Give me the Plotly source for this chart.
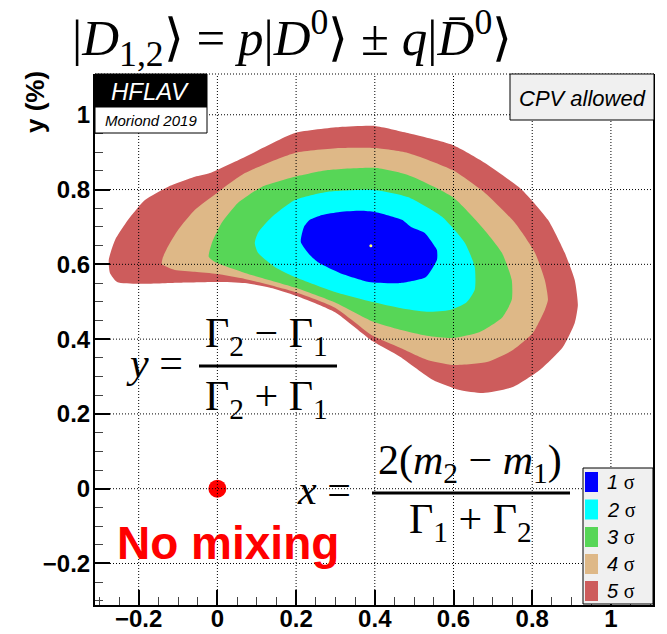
import plotly.graph_objects as go

# ---------------- data ----------------
sigma_names = ["1", "2", "3", "4", "5"]
sigma_colors = ["#0000ff", "#00ffff", "#57d657", "#deb887", "#cd5c5c"]

c5_x = [-0.276, -0.260, -0.227, -0.184, -0.126, -0.057, -0.019, 0.070, 0.197, 0.311, 0.400, 0.484, 0.598,
        0.680, 0.774, 0.840, 0.883, 0.908, 0.916, 0.908, 0.878, 0.820, 0.751, 0.675, 0.616, 0.548, 0.464,
        0.395, 0.299, 0.210, 0.140, 0.070, -0.001, -0.100, -0.202, -0.255, -0.273]
c5_y = [0.612, 0.665, 0.719, 0.772, 0.807, 0.834, 0.844, 0.887, 0.951, 0.967, 0.970, 0.951, 0.919,
        0.871, 0.799, 0.719, 0.630, 0.558, 0.491, 0.443, 0.379, 0.318, 0.272, 0.256, 0.264, 0.291, 0.353,
        0.394, 0.472, 0.512, 0.536, 0.550, 0.553, 0.551, 0.548, 0.553, 0.577]

c4_x = [-0.141, -0.139, -0.126, -0.100, -0.057, -0.001, 0.070, 0.197, 0.311, 0.400, 0.484, 0.598, 0.680,
        0.756, 0.807, 0.832, 0.840, 0.832, 0.802, 0.751, 0.685, 0.598, 0.532, 0.464, 0.395, 0.299, 0.197,
        0.070, -0.001, -0.057, -0.108]
c4_y = [0.601, 0.617, 0.647, 0.692, 0.746, 0.791, 0.844, 0.898, 0.911, 0.911, 0.898, 0.852, 0.791,
        0.711, 0.631, 0.558, 0.505, 0.478, 0.417, 0.371, 0.339, 0.331, 0.345, 0.377, 0.409, 0.484, 0.526,
        0.561, 0.574, 0.580, 0.585]

c3_x = [-0.022, -0.014, 0.011, 0.052, 0.113, 0.197, 0.281, 0.400, 0.484, 0.598, 0.672, 0.723, 0.748,
        0.748, 0.723, 0.667, 0.598, 0.532, 0.464, 0.395, 0.299, 0.197, 0.070, -0.006]
c3_y = [0.620, 0.657, 0.711, 0.764, 0.807, 0.834, 0.852, 0.858, 0.839, 0.780, 0.700, 0.631, 0.558,
        0.505, 0.457, 0.419, 0.403, 0.409, 0.425, 0.447, 0.498, 0.538, 0.577, 0.606]

c2_x = [0.095, 0.103, 0.139, 0.197, 0.281, 0.400, 0.484, 0.571, 0.629, 0.654, 0.654, 0.632, 0.591,
        0.532, 0.464, 0.395, 0.299, 0.197, 0.146, 0.103]
c2_y = [0.657, 0.684, 0.727, 0.772, 0.794, 0.799, 0.780, 0.727, 0.657, 0.593, 0.532, 0.497, 0.478,
        0.473, 0.483, 0.499, 0.526, 0.566, 0.593, 0.631]

c1_x = [0.220, 0.212, 0.235, 0.258, 0.311, 0.385, 0.466, 0.530, 0.558, 0.558, 0.550, 0.527, 0.492,
        0.469, 0.400, 0.365, 0.311, 0.266, 0.235]
c1_y = [0.700, 0.660, 0.625, 0.604, 0.577, 0.553, 0.550, 0.566, 0.612, 0.638, 0.652, 0.684, 0.700,
        0.719, 0.740, 0.743, 0.740, 0.732, 0.719]

fit_x = [0.39]
fit_y = [0.65]
nomix_x = [0.0]
nomix_y = [0.0]

x_ticks = [-0.2, 0.0, 0.2, 0.4, 0.6, 0.8, 1.0]
y_ticks = [-0.2, 0.0, 0.2, 0.4, 0.6, 0.8, 1.0]
tick_text = ["−0.2", "0", "0.2", "0.4", "0.6", "0.8", "1"]
x_range = [-0.311, 1.112]
y_range = [-0.311, 1.109]

# ---------------- layout helpers ----------------
W, H = 667, 634
ML, MR, MT, MB = 95, 12, 74, 29
PW, PH = W - ML - MR, H - MT - MB


def pxx(p):
    return (p - ML) / PW


def pxy(p):
    return (H - MB - p) / PH


SERIF = "Liberation Serif"
SANS = "Liberation Sans"

fig = go.Figure()

contours = [(c5_x, c5_y, 4), (c4_x, c4_y, 3), (c3_x, c3_y, 2), (c2_x, c2_y, 1), (c1_x, c1_y, 0)]
for cx, cy, i in contours:
    fig.add_trace(go.Scatter(x=cx + [cx[0]], y=cy + [cy[0]], mode="lines", fill="toself",
                             fillcolor=sigma_colors[i],
                             line=dict(width=0, color=sigma_colors[i], shape="spline", smoothing=0.55),
                             hoverinfo="skip", showlegend=False))

fig.add_trace(go.Scatter(x=fit_x, y=fit_y, mode="markers", marker=dict(size=3, color="#ffff66"),
                         showlegend=False, hoverinfo="skip"))
fig.add_trace(go.Scatter(x=nomix_x, y=nomix_y, mode="markers", marker=dict(size=18, color="#ff0000"),
                         showlegend=False, hoverinfo="skip"))

shapes = []
# grid lines above contours
for v in x_ticks:
    shapes.append(dict(type="line", xref="x", yref="paper", x0=v, x1=v, y0=0, y1=1,
                       line=dict(color="black", width=1, dash="1px,2px"), layer="above"))
for v in y_ticks:
    shapes.append(dict(type="line", xref="paper", yref="y", x0=0, x1=1, y0=v, y1=v,
                       line=dict(color="black", width=1, dash="1px,2px"), layer="above"))
# frame: right solid, top dotted
shapes.append(dict(type="line", xref="paper", yref="paper", x0=pxx(654), x1=pxx(654), y0=0, y1=1,
                   line=dict(color="black", width=2), layer="above"))
shapes.append(dict(type="line", xref="paper", yref="paper", x0=0, x1=1, y0=1, y1=1,
                   line=dict(color="black", width=1, dash="1px,2px"), layer="above"))


def rect(x0, y0, x1, y1, fill, lw=1):
    shapes.append(dict(type="rect", xref="paper", yref="paper", x0=pxx(x0), x1=pxx(x1), y0=pxy(y1), y1=pxy(y0),
                       fillcolor=fill, line=dict(color="black", width=lw), layer="above"))


# HFLAV boxes
rect(95, 74, 207, 107, "black")
rect(95, 107, 207, 133, "white")
# CPV box
rect(510, 74, 654, 120, "#f0f0f0")
# legend box
rect(583, 468, 653, 604, "#f0f0f0")
sw_tops = [472, 499.5, 527, 554, 581]
for i, t in enumerate(sw_tops):
    shapes.append(dict(type="rect", xref="paper", yref="paper", x0=pxx(585), x1=pxx(598), y0=pxy(t + 20), y1=pxy(t),
                       fillcolor=sigma_colors[i], line=dict(width=0), layer="above"))
# fraction bars
shapes.append(dict(type="line", xref="paper", yref="paper", x0=pxx(199), x1=pxx(337), y0=pxy(366), y1=pxy(366),
                   line=dict(color="black", width=3), layer="above"))
shapes.append(dict(type="line", xref="paper", yref="paper", x0=pxx(372), x1=pxx(570), y0=pxy(493), y1=pxy(493),
                   line=dict(color="black", width=3), layer="above"))

ann = []


def txt(text, x, y, size, family=SANS, color="black", xanchor="center", angle=0, weight="normal"):
    ann.append(dict(text=text, xref="paper", yref="paper", x=pxx(x), y=pxy(y), xanchor=xanchor, yanchor="middle",
                    showarrow=False, textangle=angle,
                    font=dict(size=size, family=family, color=color, weight=weight)))


txt("|<i>D</i><sub>1,2</sub>⟩ = <i>p</i>|<i>D</i><sup>0</sup>⟩ ± <i>q</i>|<i>D̄</i><sup>0</sup>⟩", 292, 38, 51, SERIF)
txt("<i>HFLAV</i>", 150, 91, 24, SANS, "white")
txt("<i>Moriond 2019</i>", 151, 120, 15)
txt("<i>CPV allowed</i>", 582, 98, 22)
txt("y (%)", 35, 102, 26, angle=-90, weight="bold")
txt("No mixing", 228, 543, 46, SANS, "#ff0000", weight="bold")
# y equation
txt("<i>y</i> =", 154, 363, 42, SERIF)
txt("Γ<sub>2</sub> − Γ<sub>1</sub>", 266, 336, 42, SERIF)
txt("Γ<sub>2</sub> + Γ<sub>1</sub>", 266, 399, 42, SERIF)
# x equation
txt("<i>x</i> =", 324, 490, 42, SERIF)
txt("2(<i>m</i><sub>2</sub> − <i>m</i><sub>1</sub>)", 470, 463, 42, SERIF)
txt("Γ<sub>1</sub> + Γ<sub>2</sub>", 470, 522, 42, SERIF)
# legend labels
for i, t in enumerate(sw_tops):
    txt("<i>" + sigma_names[i] + "</i> <span style='font-family:Liberation Serif'>σ</span>", 605, t + 10, 20,
        SANS, xanchor="left")

axis_common = dict(showgrid=False, zeroline=False, showline=True, linecolor="black", linewidth=2,
                   ticks="inside", ticklen=15, tickwidth=1.5, tickcolor="black",
                   tickfont=dict(family=SANS, size=24, color="black", weight="bold"),
                   layer="above traces", mirror=False, automargin=False,
                   minor=dict(ticks="inside", ticklen=8, tickwidth=1, tickcolor="#444", dtick=0.05, tick0=0,
                              showgrid=False))

fig.update_layout(
    width=W, height=H, autosize=False,
    margin=dict(l=ML, r=MR, t=MT, b=MB, pad=0, autoexpand=False),
    paper_bgcolor="white", plot_bgcolor="white",
    xaxis=dict(range=x_range, tickvals=x_ticks, ticktext=tick_text, ticklabelstandoff=-9, **axis_common),
    yaxis=dict(range=y_range, tickvals=y_ticks, ticktext=tick_text, ticklabelstandoff=-2, **axis_common),
    shapes=shapes, annotations=ann, showlegend=False,
)

fig.write_html("out.html")
